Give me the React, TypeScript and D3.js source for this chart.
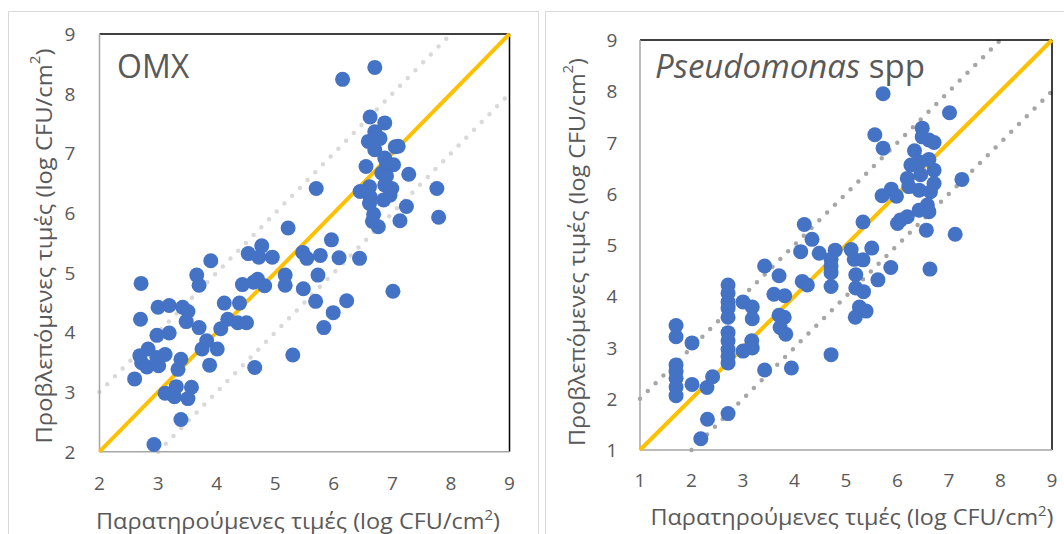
import React from "react";
import * as d3 from "d3";

// ---- Data ----
const omxObserved = [
  6.70, 6.15, 6.62, 6.87, 6.70, 6.79, 6.59, 6.70, 7.05, 7.10, 6.87, 7.02, 6.55, 6.90, 6.82, 7.28, 6.90, 6.87, 6.61, 6.45,
  6.99, 7.76, 5.70, 6.96, 6.62, 6.85, 6.61, 7.24, 6.68, 7.79, 7.13, 6.66, 6.76, 5.22, 5.96,
  5.47, 5.54, 5.77, 6.09, 6.44, 4.54, 4.77, 4.72, 4.95, 3.90, 3.66, 3.70, 2.71, 5.73, 5.17, 5.17, 5.48, 4.70, 4.63, 4.82,
  4.44, 7.01, 5.69, 6.22, 4.13, 4.39, 3.00, 3.19, 3.42, 3.51, 3.48, 2.70, 3.70, 4.19, 4.36, 4.51, 4.07, 5.83, 5.99, 3.19,
  2.98, 3.83, 2.83, 3.75, 4.01, 2.69, 3.12, 2.98, 3.39, 3.34, 2.72, 2.81, 3.01, 3.88, 4.65, 5.30, 2.60, 3.12, 3.28, 3.31,
  3.57, 3.51, 3.39, 2.93,
];
const omxPredicted = [
  8.44, 8.24, 7.61, 7.51, 7.36, 7.25, 7.20, 7.06, 7.11, 7.12, 6.92, 6.81, 6.78, 6.78, 6.67, 6.65, 6.62, 6.47, 6.44, 6.36,
  6.41, 6.41, 6.41, 6.30, 6.27, 6.22, 6.16, 6.11, 5.98, 5.93, 5.87, 5.86, 5.77, 5.75, 5.55,
  5.34, 5.24, 5.29, 5.25, 5.24, 5.32, 5.45, 5.26, 5.26, 5.20, 4.96, 4.79, 4.82, 4.96, 4.96, 4.79, 4.73, 4.89, 4.84, 4.78,
  4.80, 4.69, 4.52, 4.53, 4.49, 4.49, 4.42, 4.45, 4.42, 4.35, 4.18, 4.22, 4.08, 4.22, 4.16, 4.16, 4.06, 4.08, 4.33, 3.99,
  3.95, 3.86, 3.72, 3.72, 3.72, 3.61, 3.63, 3.58, 3.55, 3.38, 3.49, 3.42, 3.44, 3.45, 3.41, 3.62, 3.22, 2.98, 2.92, 3.09,
  3.08, 2.89, 2.54, 2.12,
];

const pseudoObserved = [
  5.72, 7.01, 5.56, 5.72, 6.48, 6.48, 6.61, 6.71, 6.33, 6.61, 6.26, 6.43, 6.71, 6.19, 6.45, 6.71, 7.25, 6.22, 6.42, 6.64,
  5.70, 5.88, 5.98, 6.58, 6.42, 6.61, 6.06, 6.19, 6.00, 5.33, 6.56, 7.12, 6.63, 5.87,
  4.19, 4.34, 4.12, 4.48, 4.79, 4.71, 4.71, 4.71, 4.71, 5.10, 5.50, 5.16, 5.33, 5.19, 5.19, 5.34, 5.62, 5.26, 5.39, 5.18,
  3.42, 3.70, 4.15, 4.25, 3.60, 3.81, 3.70, 3.80, 3.72, 3.83, 3.00, 3.18, 3.18, 3.17, 3.18, 3.00, 4.71, 3.42, 3.94,
  2.71, 2.71, 2.71, 2.71, 2.71, 2.71, 2.71, 2.71, 2.71, 2.71, 2.71,
  1.70, 1.70, 1.70, 1.70, 1.70, 1.70, 1.70,
  2.01, 2.01, 2.41, 2.30, 2.31, 2.18,
];
const pseudoPredicted = [
  7.95, 7.58, 7.15, 6.89, 7.28, 7.11, 7.05, 7.00, 6.84, 6.67, 6.56, 6.62, 6.46, 6.30, 6.37, 6.20, 6.28, 6.14, 6.07, 6.04,
  5.96, 6.09, 5.95, 5.78, 5.68, 5.65, 5.49, 5.55, 5.42, 5.45, 5.29, 5.21, 4.53, 4.56,
  5.40, 5.11, 4.87, 4.84, 4.90, 4.72, 4.59, 4.46, 4.19, 4.91, 4.94, 4.72, 4.71, 4.42, 4.16, 4.09, 4.32, 3.79, 3.71, 3.59,
  4.59, 4.40, 4.29, 4.22, 4.04, 4.01, 3.63, 3.59, 3.39, 3.26, 3.89, 3.79, 3.56, 3.13, 2.99, 2.93, 2.86, 2.56, 2.60,
  4.22, 4.06, 3.89, 3.76, 3.59, 3.29, 3.13, 2.96, 2.83, 2.70, 1.71,
  3.43, 3.21, 2.66, 2.53, 2.40, 2.23, 2.06,
  3.09, 2.28, 2.43, 2.22, 1.60, 1.22,
];

const omxTicks = [2, 3, 4, 5, 6, 7, 8, 9];
const pseudoTicks = [1, 2, 3, 4, 5, 6, 7, 8, 9];

const xTitleText = "Παρατηρούμενες τιμές (log CFU/cm";
const yTitleText = "Προβλεπόμενες τιμές (log CFU/cm";

const FONT = "'Open Sans', 'Noto Sans', sans-serif";
const TEXT = "#595959";

type PanelProps = {
  obs: number[];
  pred: number[];
  ticks: number[];
  domain: [number, number];
  xRange: [number, number];
  yRange: [number, number];
  frameX: number;
  frameW: number;
  yTickX: number;
  xTickY: number;
  yTitleX: number;
  yTitleY: number;
  yTitleLen: number;
  xTitleX: number;
  xTitleY: number;
  xTitleLen: number;
  dotColor: string;
  title: React.ReactNode;
};

function Title(props: { text: string; len: number; transform?: string; x?: number; y?: number; central?: boolean }) {
  return (
    <text
      x={props.x}
      y={props.y}
      transform={props.transform}
      textAnchor="middle"
      fontSize={22}
      fill={TEXT}
      fontFamily={FONT}
      dominantBaseline={props.central ? "central" : undefined}
      textLength={props.len}
      lengthAdjust="spacingAndGlyphs"
    >
      {props.text}
      <tspan dy={-9} fontSize={14}>
        2
      </tspan>
      <tspan dy={9}>)</tspan>
    </text>
  );
}

function Panel(p: PanelProps) {
  const x = d3.scaleLinear().domain(p.domain).range(p.xRange);
  const y = d3.scaleLinear().domain(p.domain).range(p.yRange);
  const [lo, hi] = p.domain;
  const line = d3
    .line<[number, number]>()
    .x((d) => x(d[0]))
    .y((d) => y(d[1]));
  const upper: [number, number][] = [
    [lo, lo + 1],
    [hi - 1, hi],
  ];
  const lower: [number, number][] = [
    [lo + 1, lo],
    [hi, hi - 1],
  ];
  const diag: [number, number][] = [
    [lo, lo],
    [hi, hi],
  ];
  const pts = p.obs.map((v, i) => [v, p.pred[i]] as [number, number]);
  const x0 = p.xRange[0];
  const x1 = p.xRange[1];
  const yTop = p.yRange[1];
  const yBot = p.yRange[0];
  return (
    <g>
      <rect x={p.frameX} y={11.5} width={p.frameW} height={540} fill="#fff" stroke="#d9d9d9" strokeWidth={1} />
      <path
        d={line(upper) || ""}
        fill="none"
        stroke={p.dotColor}
        strokeWidth={4.5}
        strokeLinecap="round"
        strokeDasharray="0 11"
      />
      <path
        d={line(lower) || ""}
        fill="none"
        stroke={p.dotColor}
        strokeWidth={4.5}
        strokeLinecap="round"
        strokeDasharray="0 11"
      />
      <line x1={x0} x2={x1} y1={yTop} y2={yTop} stroke="#000" strokeWidth={1.5} />
      <line x1={x1} x2={x1} y1={yTop} y2={yBot} stroke="#000" strokeWidth={1.5} />
      <line x1={x0} x2={x0} y1={yTop} y2={yBot} stroke="#a6a6a6" strokeWidth={1.5} />
      <line x1={x0} x2={x1} y1={yBot} y2={yBot} stroke="#a6a6a6" strokeWidth={1.5} />
      <path d={line(diag) || ""} fill="none" stroke="#FFC000" strokeWidth={4} />
      {pts.map((d, i) => (
        <circle key={i} cx={x(d[0])} cy={y(d[1])} r={7.5} fill="#4472C4" />
      ))}
      {p.ticks.map((t) => (
        <text
          key={"y" + t}
          x={p.yTickX}
          y={y(t)}
          textAnchor="middle"
          dominantBaseline="central"
          fontSize={19}
          fill={TEXT}
          fontFamily={FONT}
        >
          {t}
        </text>
      ))}
      {p.ticks.map((t) => (
        <text
          key={"x" + t}
          x={x(t)}
          y={p.xTickY}
          textAnchor="middle"
          dominantBaseline="central"
          fontSize={19}
          fill={TEXT}
          fontFamily={FONT}
        >
          {t}
        </text>
      ))}
      <Title text={xTitleText} len={p.xTitleLen} x={p.xTitleX} y={p.xTitleY} />
      <Title
        text={yTitleText}
        len={p.yTitleLen}
        transform={`translate(${p.yTitleX},${p.yTitleY}) rotate(-90)`}
        central
      />
      {p.title}
    </g>
  );
}

export default function App() {
  return (
    <svg
      width={1064}
      height={534}
      style={{ position: "absolute", left: 0, top: 0, background: "#fff" }}
    >
      <rect x={0} y={0} width={1064} height={534} fill="#fff" />
      <Panel
        obs={omxObserved}
        pred={omxPredicted}
        ticks={omxTicks}
        domain={[2, 9]}
        xRange={[99.5, 509.5]}
        yRange={[451.7, 34]}
        frameX={8.5}
        frameW={530}
        yTickX={70}
        xTickY={483}
        yTitleX={43}
        yTitleY={246}
        yTitleLen={395}
        xTitleX={298}
        xTitleY={529}
        xTitleLen={404}
        dotColor="#d9d9d9"
        title={
          <text x={117} y={78} fontSize={32} fill={TEXT} fontFamily={FONT}>
            OMX
          </text>
        }
      />
      <Panel
        obs={pseudoObserved}
        pred={pseudoPredicted}
        ticks={pseudoTicks}
        domain={[1, 9]}
        xRange={[640, 1052]}
        yRange={[450, 40]}
        frameX={545.5}
        frameW={530}
        yTickX={612}
        xTickY={480}
        yTitleX={576}
        yTitleY={252}
        yTitleLen={388}
        xTitleX={852}
        xTitleY={525}
        xTitleLen={403}
        dotColor="#a6a6a6"
        title={
          <text x={655} y={78} fontSize={33} fill={TEXT} fontFamily={FONT}>
            <tspan fontStyle="italic">Pseudomonas</tspan> spp
          </text>
        }
      />
    </svg>
  );
}
